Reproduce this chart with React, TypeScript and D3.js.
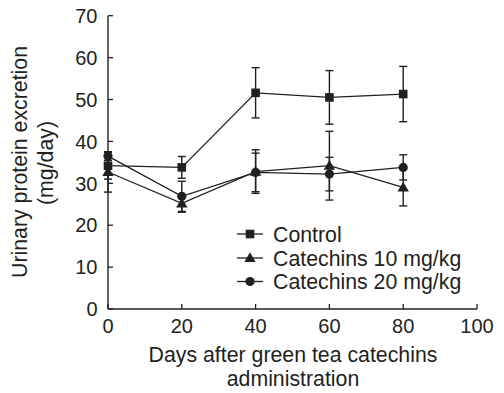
import React from "react";
import * as d3 from "d3";

const days = [0, 20, 40, 60, 80];
const controlMean = [34.2, 33.8, 51.6, 50.5, 51.3];
const controlErr = [3.2, 2.6, 6.0, 6.4, 6.6];
const cat10Mean = [32.7, 25.2, 32.8, 34.2, 29.0];
const cat10Err = [4.8, 2.1, 5.2, 8.2, 4.4];
const cat20Mean = [36.5, 26.9, 32.6, 32.2, 33.8];
const cat20Err = [1.0, 3.6, 4.6, 4.0, 3.0];
const xTicks = [0, 20, 40, 60, 80, 100];
const yTicks = [0, 10, 20, 30, 40, 50, 60, 70];
const seriesNames = ["Control", "Catechins 10 mg/kg", "Catechins 20 mg/kg"];
const seriesShapes = ["square", "triangle", "circle"];

const W = 504;
const H = 393;
const INK = "#231f20";
const FONT = "'Liberation Sans', Arial, Helvetica, sans-serif";
const TITLE_FS = 21.3;

const x = d3.scaleLinear().domain([0, 100]).range([108, 477]);
const y = d3.scaleLinear().domain([0, 70]).range([309, 15.7]);

function Marker({ shape, cx, cy }: { shape: string; cx: number; cy: number }) {
  if (shape === "square") {
    return <rect x={cx - 4.3} y={cy - 4.3} width={8.6} height={8.6} fill={INK} />;
  }
  if (shape === "circle") {
    return <circle cx={cx} cy={cy} r={4.6} fill={INK} />;
  }
  const p = d3.symbol().type(d3.symbolTriangle).size(56)();
  return <path d={p || ""} transform={`translate(${cx},${cy + 0.8})`} fill={INK} />;
}

export default function App() {
  const series = [
    { name: seriesNames[0], shape: seriesShapes[0], mean: controlMean, err: controlErr },
    { name: seriesNames[1], shape: seriesShapes[1], mean: cat10Mean, err: cat10Err },
    { name: seriesNames[2], shape: seriesShapes[2], mean: cat20Mean, err: cat20Err },
  ];
  const line = d3
    .line<number>()
    .x((_, i) => x(days[i]))
    .y((d) => y(d));

  const legendX0 = 237;
  const legendX1 = 263;
  const legendRows = [234, 258, 281.5];

  return (
    <svg
      width={W}
      height={H}
      style={{ position: "absolute", left: 0, top: 0, background: "#fff" }}
      fontFamily={FONT}
    >
      <rect width={W} height={H} fill="#fff" />
      {/* axes */}
      <line x1={x(0)} x2={x(0)} y1={y(0)} y2={y(70)} stroke={INK} strokeWidth={1.4} />
      <line x1={x(0)} x2={x(100)} y1={y(0)} y2={y(0)} stroke={INK} strokeWidth={1.4} />
      {yTicks.map((t) => (
        <g key={"y" + t}>
          <line x1={x(0)} x2={x(0) + 5} y1={y(t)} y2={y(t)} stroke={INK} strokeWidth={1.3} />
          <text
            x={97.5}
            y={y(t)}
            dy="0.36em"
            textAnchor="end"
            fontSize={20}
            fill={INK}
          >
            {t}
          </text>
        </g>
      ))}
      {xTicks.map((t) => (
        <g key={"x" + t}>
          <line x1={x(t)} x2={x(t)} y1={y(0)} y2={y(0) - 5} stroke={INK} strokeWidth={1.3} />
          <text x={x(t)} y={332.5} textAnchor="middle" fontSize={20} fill={INK}>
            {t}
          </text>
        </g>
      ))}
      {/* axis titles */}
      <text
        transform={`translate(27,162) rotate(-90)`}
        textAnchor="middle"
        fontSize={TITLE_FS}
        fill={INK}
      >
        Urinary protein excretion
      </text>
      <text
        transform={`translate(53,163) rotate(-90)`}
        textAnchor="middle"
        fontSize={TITLE_FS}
        fill={INK}
      >
        (mg/day)
      </text>
      <text x={293} y={362} textAnchor="middle" fontSize={TITLE_FS} fill={INK}>
        Days after green tea catechins
      </text>
      <text x={293} y={386} textAnchor="middle" fontSize={TITLE_FS} fill={INK}>
        administration
      </text>

      {/* error bars */}
      {series.map((s) =>
        s.mean.map((m, i) => {
          const cx = x(days[i]);
          const top = y(m + s.err[i]);
          const bot = y(m - s.err[i]);
          return (
            <g key={s.name + "e" + i} stroke={INK} strokeWidth={1.4}>
              <line x1={cx} x2={cx} y1={top} y2={bot} />
              <line x1={cx - 4} x2={cx + 4} y1={top} y2={top} />
              <line x1={cx - 4} x2={cx + 4} y1={bot} y2={bot} />
            </g>
          );
        })
      )}
      {/* lines */}
      {series.map((s) => (
        <path key={s.name + "l"} d={line(s.mean) || ""} fill="none" stroke={INK} strokeWidth={1.3} />
      ))}
      {/* markers */}
      {series.map((s) =>
        s.mean.map((m, i) => (
          <Marker key={s.name + "m" + i} shape={s.shape} cx={x(days[i])} cy={y(m)} />
        ))
      )}

      {/* legend */}
      {series.map((s, i) => (
        <g key={s.name + "leg"}>
          <line
            x1={legendX0}
            x2={legendX1}
            y1={legendRows[i]}
            y2={legendRows[i]}
            stroke={INK}
            strokeWidth={1.3}
          />
          <Marker shape={s.shape} cx={(legendX0 + legendX1) / 2} cy={legendRows[i]} />
          <text x={273} y={legendRows[i]} dy="0.36em" fontSize={TITLE_FS} fill={INK}>
            {s.name}
          </text>
        </g>
      ))}
    </svg>
  );
}
